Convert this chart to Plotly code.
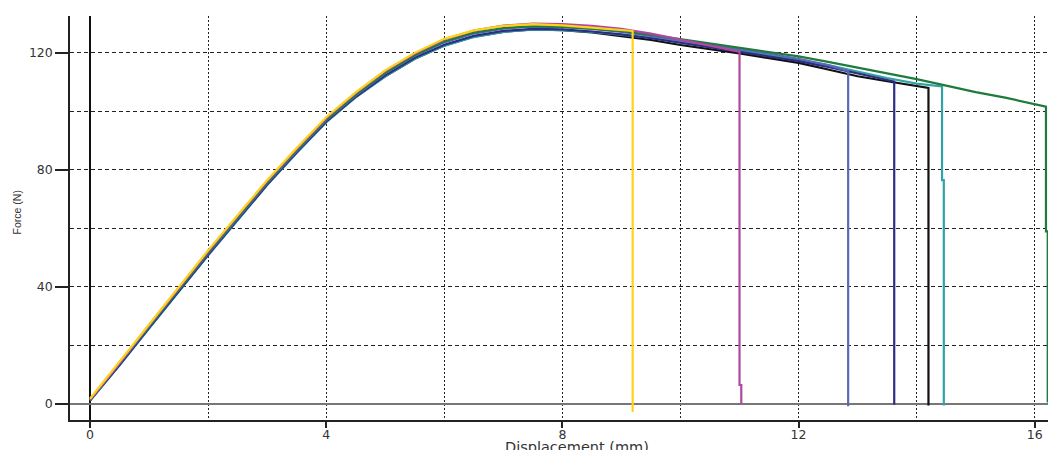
import plotly.graph_objects as go

# ---- data (Displacement in mm, Force in N) ----
black_x = [0, 0.5, 1, 1.5, 2, 2.5, 3, 3.5, 4, 4.5, 5, 5.5, 6, 6.5, 7, 7.5, 8, 8.5, 9, 9.5, 10, 10.5, 11, 11.5, 12, 12.5, 13, 13.5, 14, 14.2, 14.2]
black_y = [1.3, 13.5, 26, 38.5, 51, 63, 75, 86, 96.5, 105, 112, 118, 122.5, 125.5, 127.2, 128, 127.8, 127, 125.8, 124.4, 122.7, 121.3, 119.8, 118.2, 116.6, 114.3, 112, 110.3, 108.7, 108, -0.5]

teal_x = [0, 0.5, 1, 1.5, 2, 2.5, 3, 3.5, 4, 4.5, 5, 5.5, 6, 6.5, 7, 7.5, 8, 8.5, 9, 9.5, 10, 10.5, 11, 11.5, 12, 12.5, 13, 13.5, 14, 14.43, 14.43, 14.46, 14.46]
teal_y = [1.2, 13.2, 25.8, 38.3, 50.8, 62.8, 74.8, 85.8, 96.3, 104.8, 112, 118, 122.4, 125.4, 127.2, 127.9, 127.8, 127.2, 126.3, 125.2, 123.8, 122.3, 120.8, 119.2, 117.6, 115.8, 113.6, 111.4, 109.5, 108.5, 76.5, 76.5, -0.5]

navy_x = [0, 0.5, 1, 1.5, 2, 2.5, 3, 3.5, 4, 4.5, 5, 5.5, 6, 6.5, 7, 7.5, 8, 8.5, 9, 9.5, 10, 10.5, 11, 11.5, 12, 12.5, 13, 13.5, 13.62, 13.62]
navy_y = [1.2, 13.3, 26, 38.5, 51, 63, 75, 86, 96.5, 105, 112.3, 118.3, 122.8, 125.8, 127.5, 128.2, 128, 127.3, 126.3, 125, 123.4, 121.9, 120.4, 118.8, 117.2, 115.2, 113, 110.8, 110.2, -0.3]

blue_x = [0, 0.5, 1, 1.5, 2, 2.5, 3, 3.5, 4, 4.5, 5, 5.5, 6, 6.5, 7, 7.5, 8, 8.5, 9, 9.5, 10, 10.5, 11, 11.5, 12, 12.5, 12.84, 12.84]
blue_y = [1.3, 13.7, 26.5, 39, 51.5, 63.5, 75.5, 86.5, 97, 105.5, 113, 119, 123.6, 126.6, 128.3, 129, 128.8, 128.2, 127.2, 125.8, 124.3, 122.9, 121.3, 119.7, 118, 115.8, 113.8, -0.8]

green_x = [0, 0.5, 1, 1.5, 2, 2.5, 3, 3.5, 4, 4.5, 5, 5.5, 6, 6.5, 7, 7.5, 8, 8.5, 9, 9.5, 10, 10.5, 11, 11.5, 12, 12.5, 13, 13.5, 14, 14.5, 15, 15.5, 16, 16.19, 16.19, 16.22, 16.22]
green_y = [1.4, 13.8, 26.6, 39.2, 51.8, 63.8, 75.8, 86.8, 97.2, 105.8, 113.2, 119.2, 123.9, 126.9, 128.5, 129.1, 128.9, 128.3, 127.4, 126.2, 124.7, 123.1, 121.6, 120.2, 118.8, 116.9, 115, 113, 111, 108.8, 106.6, 104.7, 102.6, 101.6, 59, 59, 0.5]

magenta_x = [0, 0.5, 1, 1.5, 2, 2.5, 3, 3.5, 4, 4.5, 5, 5.5, 6, 6.5, 7, 7.5, 8, 8.5, 9, 9.5, 10, 10.5, 11, 11.0, 11.03, 11.03]
magenta_y = [1.5, 14, 27, 39.8, 52.2, 64.3, 76.2, 87.2, 97.7, 106.3, 113.8, 119.8, 124.6, 127.6, 129.3, 130, 129.8, 129.2, 128.2, 126.6, 124.6, 122.5, 120.4, 6.5, 6.5, 0]

yellow_x = [0, 0.5, 1, 1.5, 2, 2.5, 3, 3.5, 4, 4.5, 5, 5.5, 6, 6.5, 7, 7.5, 8, 8.5, 9, 9.19, 9.19]
yellow_y = [1.8, 14.5, 27.5, 40, 52.5, 64.5, 76.5, 87.5, 98, 106.5, 114, 120, 124.8, 127.7, 129.2, 129.8, 129.4, 128.6, 127.8, 127.5, -2.7]

x_ticks = [0, 4, 8, 12, 16]
y_ticks = [0, 40, 80, 120]

series = [
    (black_x, black_y, "#111111"),
    (teal_x, teal_y, "#2fa3a6"),
    (navy_x, navy_y, "#2d2d86"),
    (blue_x, blue_y, "#5a68b8"),
    (green_x, green_y, "#1f7a3c"),
    (magenta_x, magenta_y, "#b2479f"),
    (yellow_x, yellow_y, "#ffd21a"),
]

fig = go.Figure()
for xs, ys, col in series:
    fig.add_trace(go.Scatter(x=xs, y=ys, mode="lines",
                             line=dict(color=col, width=2.2), showlegend=False,
                             hoverinfo="skip"))

tick_family = "DejaVu Sans, Verdana, sans-serif"
narrow_family = "Liberation Sans Narrow, Arial Narrow, Liberation Sans, sans-serif"

fig.update_layout(
    width=1048, height=442,
    margin=dict(l=62, r=0, t=8, b=30),
    paper_bgcolor="white", plot_bgcolor="white",
    font=dict(family=tick_family, color="#333333", size=12),
    xaxis=dict(
        range=[-0.339, 16.36],
        tickmode="array", tickvals=x_ticks, ticktext=[str(v) for v in x_ticks],
        ticks="outside", ticklen=6, tickwidth=1.5, tickcolor="#222",
        showline=True, linecolor="#222", linewidth=1.5,
        showgrid=True, gridcolor="#222", griddash="2px,2px", gridwidth=1.4,
        minor=dict(dtick=2, tick0=0, showgrid=True, gridcolor="#222",
                   griddash="2px,2px", gridwidth=1.4, ticks=""),
        zeroline=True, zerolinecolor="#111", zerolinewidth=1.5,
        tickfont=dict(size=12.5, color="#333", family=tick_family),
        ticklabelstandoff=-4,
        automargin=False,
    ),
    yaxis=dict(
        range=[-5.47, 132.6],
        tickmode="array", tickvals=y_ticks, ticktext=[str(v) for v in y_ticks],
        ticks="outside", ticklen=13, tickwidth=1.5, tickcolor="#222",
        showline=True, linecolor="#222", linewidth=1.5,
        showgrid=True, gridcolor="#222", griddash="4px,3px", gridwidth=1.2,
        minor=dict(dtick=20, tick0=0, showgrid=True, gridcolor="#222",
                   griddash="4px,3px", gridwidth=1.2, ticks=""),
        zeroline=True, zerolinecolor="#777", zerolinewidth=2,
        tickfont=dict(size=12.5, color="#333", family=tick_family),
        automargin=False,
    ),
    annotations=[
        dict(text="Force (N)", xref="paper", yref="paper",
             x=-0.0538, y=0.5136, xanchor="center", yanchor="middle",
             textangle=-90, showarrow=False,
             font=dict(size=10.5, color="#333", family=narrow_family)),
        dict(text="Displacement (mm)", xref="paper", yref="paper",
             x=0.514, y=-0.068, xanchor="center", yanchor="middle",
             showarrow=False,
             font=dict(size=14.5, color="#333", family=tick_family)),
    ],
)

fig.write_html("out.html")
